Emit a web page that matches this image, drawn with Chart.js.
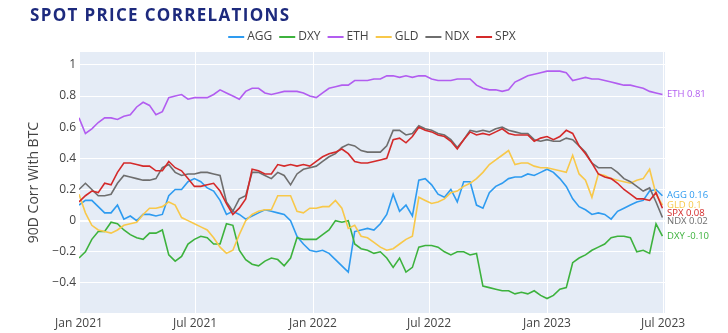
<!DOCTYPE html>
<html>
<head>
<meta charset="utf-8">
<script src="https://cdn.jsdelivr.net/npm/chart.js@4.4.0/dist/chart.umd.min.js"></script>
<style>
  html, body { margin: 0; padding: 0; background: #fff; }
</style>
</head>
<body>
<canvas id="MiGrafica" width="728" height="333"></canvas>
<script>
// days since 2021-01-01, one reading every 10 days
const dayStep = 10;
const series = ["AGG", "DXY", "ETH", "GLD", "NDX", "SPX"];
const colors = ["#2E9BF0", "#3DB23D", "#B25DF0", "#F8C84A", "#6E6E6E", "#D42A2A"];
const endLabels = ["AGG 0.16", "DXY -0.10", "ETH 0.81", "GLD 0.1", "NDX 0.02", "SPX 0.08"];

const agg = [0.10,0.13,0.13,0.09,0.05,0.05,0.10,0.01,0.03,0.00,
  0.04,0.04,0.03,0.04,0.16,0.20,0.20,0.25,0.27,0.25,
  0.21,0.19,0.13,0.04,0.06,0.04,0.01,0.03,0.05,0.07,
  0.06,0.05,0.04,0.00,-0.10,-0.15,-0.19,-0.20,-0.19,-0.21,
  -0.25,-0.29,-0.33,-0.07,-0.06,-0.05,-0.06,-0.02,0.04,0.17,
  0.06,0.10,0.03,0.26,0.27,0.23,0.17,0.15,0.20,0.12,
  0.25,0.25,0.10,0.08,0.18,0.22,0.24,0.27,0.28,0.28,
  0.30,0.29,0.31,0.33,0.31,0.27,0.22,0.14,0.09,0.07,
  0.04,0.05,0.04,0.01,0.06,0.08,0.10,0.12,0.13,0.19,
  0.20,0.16];

const dxy = [-0.24,-0.20,-0.12,-0.07,-0.07,-0.01,-0.02,-0.06,-0.09,-0.11,
  -0.12,-0.08,-0.08,-0.06,-0.22,-0.26,-0.23,-0.15,-0.12,-0.10,
  -0.11,-0.15,-0.15,-0.02,-0.03,-0.19,-0.25,-0.28,-0.29,-0.26,
  -0.24,-0.25,-0.29,-0.24,-0.11,-0.12,-0.12,-0.12,-0.09,-0.06,
  0.00,-0.01,0.00,-0.15,-0.18,-0.19,-0.21,-0.20,-0.24,-0.30,
  -0.24,-0.33,-0.30,-0.17,-0.16,-0.16,-0.17,-0.20,-0.22,-0.20,
  -0.20,-0.22,-0.21,-0.42,-0.43,-0.44,-0.45,-0.45,-0.47,-0.46,
  -0.47,-0.45,-0.48,-0.50,-0.48,-0.44,-0.43,-0.27,-0.24,-0.22,
  -0.19,-0.17,-0.15,-0.11,-0.10,-0.10,-0.11,-0.20,-0.19,-0.21,
  -0.02,-0.10];

const eth = [0.66,0.56,0.59,0.63,0.66,0.66,0.65,0.67,0.68,0.73,
  0.76,0.74,0.68,0.70,0.79,0.80,0.81,0.78,0.79,0.79,
  0.79,0.81,0.84,0.82,0.80,0.78,0.83,0.85,0.85,0.82,
  0.81,0.82,0.83,0.83,0.83,0.82,0.80,0.79,0.82,0.85,
  0.86,0.87,0.87,0.90,0.90,0.90,0.91,0.91,0.93,0.93,
  0.92,0.93,0.92,0.93,0.93,0.91,0.90,0.90,0.90,0.91,
  0.91,0.91,0.87,0.85,0.84,0.84,0.83,0.84,0.89,0.91,
  0.93,0.94,0.95,0.96,0.96,0.96,0.95,0.90,0.91,0.92,
  0.91,0.91,0.90,0.89,0.88,0.87,0.87,0.86,0.85,0.83,
  0.82,0.81];

const gld = [0.17,0.05,-0.03,-0.06,-0.07,-0.08,-0.06,-0.03,-0.02,-0.01,
  0.04,0.08,0.08,0.09,0.12,0.10,0.02,0.00,-0.02,-0.04,
  -0.06,-0.11,-0.17,-0.21,-0.19,-0.09,0.00,0.04,0.06,0.07,
  0.07,0.16,0.16,0.16,0.06,0.05,0.08,0.08,0.09,0.09,
  0.13,0.08,-0.05,-0.03,-0.10,-0.11,-0.14,-0.17,-0.19,-0.18,
  -0.15,-0.12,-0.10,0.15,0.13,0.11,0.12,0.14,0.18,0.19,
  0.22,0.24,0.27,0.31,0.36,0.39,0.42,0.45,0.36,0.37,
  0.37,0.35,0.34,0.34,0.33,0.32,0.31,0.42,0.30,0.26,
  0.15,0.30,0.29,0.27,0.26,0.25,0.24,0.26,0.27,0.33,
  0.17,0.10];

const ndx = [0.20,0.24,0.20,0.16,0.16,0.17,0.24,0.29,0.28,0.27,
  0.26,0.26,0.27,0.34,0.36,0.31,0.29,0.30,0.30,0.31,
  0.31,0.30,0.29,0.12,0.06,0.14,0.16,0.31,0.31,0.29,
  0.27,0.31,0.29,0.23,0.30,0.33,0.34,0.35,0.38,0.41,
  0.43,0.47,0.49,0.48,0.45,0.44,0.44,0.44,0.48,0.58,
  0.58,0.55,0.56,0.61,0.59,0.58,0.56,0.55,0.52,0.47,
  0.52,0.58,0.57,0.58,0.57,0.59,0.60,0.58,0.57,0.56,
  0.56,0.52,0.51,0.52,0.51,0.51,0.53,0.52,0.48,0.44,
  0.37,0.34,0.34,0.34,0.31,0.27,0.25,0.22,0.19,0.21,
  0.12,0.02];

const spx = [0.12,0.16,0.19,0.18,0.24,0.23,0.31,0.37,0.37,0.36,
  0.35,0.35,0.32,0.32,0.38,0.34,0.32,0.27,0.22,0.22,
  0.23,0.24,0.19,0.11,0.04,0.08,0.14,0.33,0.32,0.30,
  0.30,0.36,0.35,0.36,0.35,0.36,0.35,0.38,0.41,0.43,
  0.44,0.46,0.43,0.38,0.37,0.37,0.38,0.39,0.40,0.52,
  0.53,0.50,0.54,0.60,0.58,0.57,0.55,0.54,0.51,0.46,
  0.52,0.57,0.55,0.56,0.55,0.57,0.59,0.56,0.55,0.55,
  0.55,0.51,0.53,0.54,0.52,0.54,0.58,0.56,0.48,0.43,
  0.37,0.30,0.28,0.27,0.24,0.20,0.17,0.14,0.14,0.13,
  0.18,0.08];

const values = [agg, dxy, eth, gld, ndx, spx];

const tickDays = [0, 181, 365, 546, 730, 911];
const tickLabels = ["Jan 2021", "Jul 2021", "Jan 2022", "Jul 2022", "Jan 2023", "Jul 2023"];
const yTicks = [-0.4, -0.2, 0, 0.2, 0.4, 0.6, 0.8, 1];

const font = "'Open Sans', 'Liberation Sans', sans-serif";
const gray = "#444";

// fondo del area, titulo, leyenda y etiquetas finales
const extras = {
  id: "extras",
  beforeDraw(chart) {
    const { ctx, chartArea: a } = chart;
    ctx.save();
    ctx.fillStyle = "#E5ECF6";
    ctx.fillRect(a.left, a.top, a.width, a.height);
    ctx.restore();
  },
  afterDraw(chart) {
    const { ctx, chartArea: a, scales } = chart;
    ctx.save();

    // title
    ctx.font = "bold 17px " + font;
    ctx.fillStyle = "#1D2A7D";
    ctx.textBaseline = "middle";
    const title = "SPOT PRICE CORRELATIONS";
    const w0 = ctx.measureText(title).width;
    ctx.letterSpacing = ((259 - w0) / (title.length - 1)).toFixed(2) + "px";
    ctx.fillText(title, 30, 16);
    ctx.letterSpacing = "0px";

    // legend
    ctx.font = "12px " + font;
    const lineLen = 16, gapTxt = 3, gapItem = 7;
    const widths = series.map(s => lineLen + gapTxt + ctx.measureText(s).width);
    const total = widths.reduce((s, w) => s + w, 0) + gapItem * (series.length - 1);
    let x = (a.left + a.right) / 2 - total / 2;
    series.forEach((s, i) => {
      ctx.strokeStyle = colors[i];
      ctx.lineWidth = 2;
      ctx.beginPath();
      ctx.moveTo(x, 37);
      ctx.lineTo(x + lineLen, 37);
      ctx.stroke();
      ctx.fillStyle = gray;
      ctx.textAlign = "left";
      ctx.fillText(s, x + lineLen + gapTxt, 37);
      x += widths[i] + gapItem;
    });

    // y axis title
    ctx.save();
    ctx.translate(34, (a.top + a.bottom) / 2);
    ctx.rotate(-Math.PI / 2);
    ctx.font = "14px " + font;
    ctx.fillStyle = gray;
    ctx.textAlign = "center";
    ctx.fillText("90D Corr With BTC", 0, 0);
    ctx.restore();

    // labels at the end of each line (cut at the picture edge like the original)
    ctx.beginPath();
    ctx.rect(a.right, 0, 709 - a.right, chart.height);
    ctx.clip();
    ctx.font = "9.5px " + font;
    ctx.textAlign = "left";
    const items = values.map((v, i) => ({ i, y: scales.y.getPixelForValue(v[v.length - 1]) }));
    items.sort((p, q) => p.y - q.y);
    for (let k = 1; k < items.length; k++) {
      if (items[k].y - items[k - 1].y < 8) items[k].y = items[k - 1].y + 8;
    }
    items.forEach(it => {
      ctx.fillStyle = colors[it.i];
      ctx.fillText(endLabels[it.i], a.right + 2, it.y);
    });
    ctx.restore();
  }
};

let miCanvas = document.getElementById("MiGrafica").getContext("2d");

var chart = new Chart(miCanvas, {
  type: "line",
  data: {
    datasets: series.map((s, i) => ({
      label: s,
      data: values[i].map((v, k) => ({ x: k * dayStep, y: v })),
      borderColor: colors[i],
      backgroundColor: colors[i],
      borderWidth: 1.6,
      pointRadius: 0,
      tension: 0,
      order: series.length - i  // SPX on top
    }))
  },
  options: {
    responsive: false,
    animation: false,
    layout: { padding: { top: 52, right: 63, bottom: 0, left: 0 } },
    plugins: {
      legend: { display: false },
      title: { display: false },
      tooltip: { enabled: false }
    },
    scales: {
      x: {
        type: "linear",
        min: 0,
        max: 914,
        afterBuildTicks: scale => { scale.ticks = tickDays.map(v => ({ value: v })); },
        afterFit: scale => { scale.height = 20; },
        ticks: {
          autoSkip: false,
          maxRotation: 0,
          padding: 3,
          color: gray,
          font: { size: 12, family: font },
          callback: (v, i) => tickLabels[i]
        },
        grid: { color: "#FFFFFF", lineWidth: 1, drawTicks: false },
        border: { display: false }
      },
      y: {
        min: -0.593,
        max: 1.083,
        afterBuildTicks: scale => { scale.ticks = yTicks.map(v => ({ value: v })); },
        afterFit: scale => { scale.width = 79; },
        ticks: {
          padding: 3,
          color: gray,
          font: { size: 12, family: font },
          callback: v => (v < 0 ? "\u2212" + Math.abs(v) : String(v))
        },
        grid: {
          color: "#FFFFFF",
          lineWidth: c => (c.tick && c.tick.value === 0 ? 2 : 1),
          drawTicks: false
        },
        border: { display: false }
      }
    }
  },
  plugins: [extras]
});
</script>
</body>
</html>
